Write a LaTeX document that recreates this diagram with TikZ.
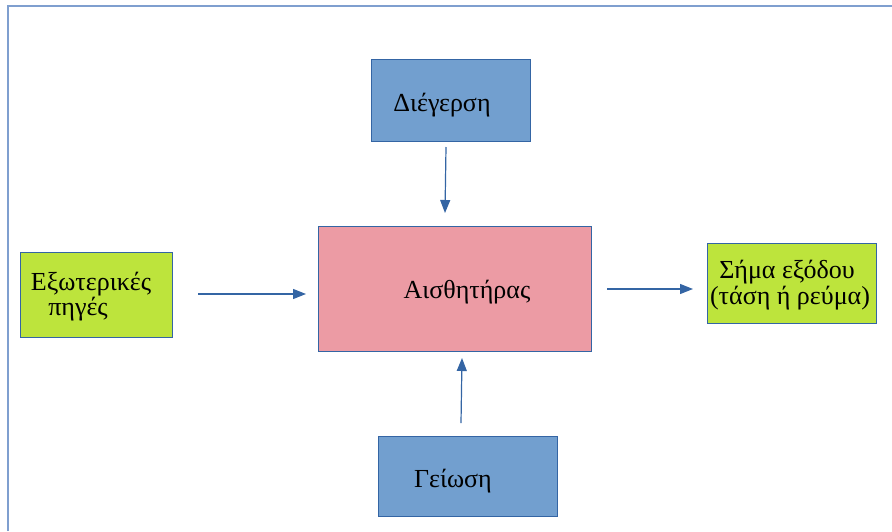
\documentclass[tikz,border=0pt]{standalone}
\usepackage{fontspec}
\setmainfont{Liberation Serif}
\usetikzlibrary{arrows.meta}
\definecolor{bluefill}{HTML}{729FCF}
\definecolor{bluedraw}{HTML}{3465A4}
\definecolor{pinkfill}{HTML}{EC9BA4}
\definecolor{greenfill}{HTML}{BDE43C}
\definecolor{framecol}{HTML}{7F9FCF}
\begin{document}
\begin{tikzpicture}[x=1pt,y=-1pt,
  box/.style={draw=bluedraw,line width=0.8pt,inner sep=0pt,anchor=north west},
  lbl/.style={anchor=base,inner sep=0pt,font=\fontsize{26}{28}\selectfont},
  arr/.style={draw=bluedraw,line width=1.2pt,-{Triangle[length=13pt,width=10pt]}}]
\useasboundingbox (0,0) rectangle (892,531);
\draw[framecol,line width=2pt] (8,531) -- (8,6) -- (892,6);
% boxes
\node[box,fill=bluefill,minimum width=159pt,minimum height=82pt] (dieg) at (371,59) {};
\node[box,fill=pinkfill,minimum width=273pt,minimum height=125pt] (sens) at (318,226) {};
\node[box,fill=bluefill,minimum width=179pt,minimum height=80pt] (geio) at (378,436) {};
\node[box,fill=greenfill,minimum width=152pt,minimum height=85pt] (ext) at (20,252) {};
\node[box,fill=greenfill,minimum width=169pt,minimum height=80pt] (out) at (707,243) {};
% labels
\node[lbl] (tdieg) at (442,111) {Διέγερση};
\node[lbl] (tsens) at (467,298) {Αισθητήρας};
\node[lbl] (tgeio) at (453,487) {Γείωση};
\node[lbl] (text1) at (91,290) {Εξωτερικές};
\node[lbl] (text2) at (78,315) {πηγές};
\node[lbl] (tout1) at (787,278) {Σήμα εξόδου};
\node[lbl] (tout2) at (790,304) {(τάση ή ρεύμα)};
% connector ends
\coordinate (a1s) at (446,147); \coordinate (a1e) at (445,213);
\coordinate (a2s) at (461,423); \coordinate (a2e) at (462,358);
\coordinate (a3s) at (198,294); \coordinate (a3e) at (306,294);
\coordinate (a4s) at (607,289); \coordinate (a4e) at (693,289);
\draw[arr] (a1s) -- (a1e);
\draw[arr] (a2s) -- (a2e);
\draw[arr] (a3s) -- (a3e);
\draw[arr] (a4s) -- (a4e);
\end{tikzpicture}
\end{document}
